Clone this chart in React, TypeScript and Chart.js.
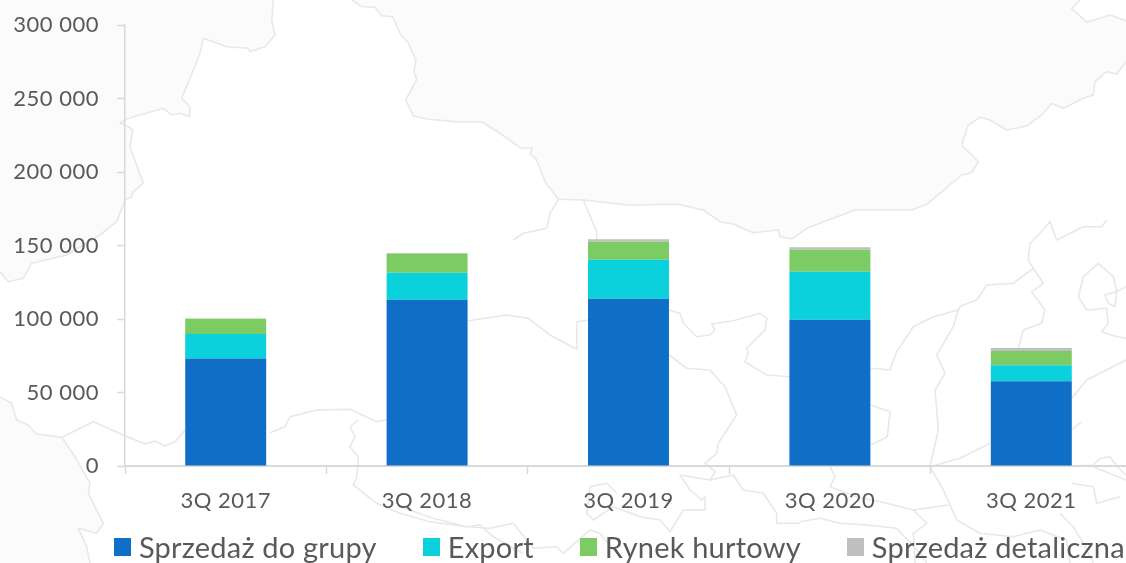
import React, { useEffect, useRef } from "react";
import { Chart, registerables } from "chart.js";

Chart.register(...registerables);

const categories = ["3Q 2017", "3Q 2018", "3Q 2019", "3Q 2020", "3Q 2021"];
const seriesNames = ["Sprzedaż do grupy", "Export", "Rynek hurtowy", "Sprzedaż detaliczna"];
const seriesColors = ["#0F6FC6", "#0BD1DC", "#7DCB63", "#BFBFBF"];
const sprzedazDoGrupy = [73100, 113100, 113800, 99500, 57600];
const exportSales = [16700, 18400, 26500, 32700, 10900];
const rynekHurtowy = [10400, 12900, 12300, 14900, 9700];
const sprzedazDetaliczna = [200, 500, 1600, 1700, 2100];
const seriesValues = [sprzedazDoGrupy, exportSales, rynekHurtowy, sprzedazDetaliczna];
const yTickStep = 50000;
const yMax = 300000;

const FONT = "Lato, Carlito, Calibri, sans-serif";
const TEXT = "#595959";
const AXIS = "#D9D9D9";

// Decorative background map, traced as [origin x, origin y, zoom coords...]
const z = (ox: number, oy: number, pts: number[][]) =>
  pts.map(([x, y]) => `${(ox + x / 3).toFixed(1)},${(oy + y / 3).toFixed(1)}`).join(" ");

const topBorder =
  z(300, 0, [[155,0],[185,20],[225,22],[245,47],[278,50],[300,100],[325,130],[348,180],[342,215],[350,238],[317,300],[340,347],[380,357],[470,365],[545,365],[600,400],[660,443],[698,445],[690,460],[710,480],[735,545],[775,598],[850,600],[990,616],[1130,612],[1210,630],[1260,665]]) +
  " " +
  z(720, 0, [[40,672],[100,698],[175,690],[180,710],[215,717],[260,685],[405,630],[575,630],[620,613],[725,525],[755,518],[775,485],[725,435],[745,375],[780,352],[810,360],[860,390],[920,378],[965,345],[995,310],[1030,325],[1090,295],[1120,285],[1125,245],[1160,215],[1190,222],[1218,185]]);
const topPocket = z(720, 0, [[1080,0],[1055,25],[1100,67],[1170,45],[1218,62]]);
const leftBorder =
  z(0, 0, [[820,0],[815,60],[825,105],[795,140],[750,155],[745,145],[680,140],[610,115],[600,160],[570,235],[545,295],[570,320],[568,350],[540,340],[515,345],[490,325],[385,355],[360,368],[385,380],[398,390],[390,440],[430,550],[400,575],[395,590],[375,600]]) +
  " " +
  z(0, 220, [[350,5],[300,45],[200,105],[95,130],[70,175],[25,185],[0,155]]);
const lowerLeft = z(0, 360, [[0,110],[35,130],[50,180],[85,195],[110,222],[185,232],[225,290],[270,370],[265,400],[310,490],[290,520],[235,505],[260,560],[270,609]]);

const mapLines: string[] = [
  topBorder, topPocket, leftBorder, lowerLeft,
  z(0, 360, [[185,232],[280,185],[370,225],[435,252],[465,243],[495,258],[525,245],[555,210]]),
  z(0, 360, [[810,218],[855,200],[870,170],[950,150],[1050,148],[1130,185],[1160,180]]),
  z(0, 220, [[1075,600],[1050,620],[1065,650],[1050,680],[1075,710],[1070,770],[1060,795],[1130,850],[1200,880],[1290,905],[1400,920],[1440,915],[1480,950],[1568,1000]]),
  z(300, 0, [[775,598],[750,640],[740,685],[670,700],[640,720]]),
  z(300, 0, [[850,600],[890,695],[890,720]]),
  z(400, 300, [[205,62],[320,45],[385,55],[450,105],[530,148],[530,65],[565,60]]),
  z(400, 300, [[807,30],[840,40],[850,70],[890,110],[930,105],[945,90],[935,72],[1000,62],[1080,40],[1100,55],[1095,90],[1040,145],[1045,160],[1035,185],[1100,225],[1170,230]]),
  z(400, 300, [[807,165],[860,205],[930,210],[975,260],[1010,345],[955,430],[950,460],[915,490],[945,515],[930,540],[840,525],[870,570],[905,600],[915,590],[915,630],[850,630],[810,695],[780,660],[720,650],[640,620],[580,660],[560,640],[570,560],[620,550],[650,580]]),
  z(400, 300, [[930,540],[1000,525],[1030,570],[1090,580],[1130,640],[1130,670],[1200,670]]),
  z(400, 300, [[0,620],[100,655],[200,680],[270,685],[340,670],[400,745],[470,740],[490,760],[570,690],[600,700],[640,750]]),
  z(800, 220, [[212,445],[270,450],[290,395],[340,320],[400,290],[475,270],[482,258],[530,240],[560,195],[640,190],[700,145],[685,120],[690,70],[720,40],[750,5],[770,60],[850,20],[905,20],[920,0]]),
  z(800, 220, [[700,145],[730,190],[695,215],[735,270],[725,310],[670,330],[655,385]]),
  z(800, 220, [[475,270],[460,320],[410,405],[435,460],[405,510],[415,630],[390,740],[430,810],[470,900],[540,940],[640,950],[720,930],[800,960],[810,1029]]),
  z(800, 220, [[212,555],[270,575],[262,650],[212,675]]),
  z(800, 220, [[390,740],[480,715],[570,670]]),
  z(800, 220, [[815,535],[860,480],[978,420]]),
  z(800, 220, [[815,630],[845,605]]),
  z(800, 220, [[835,230],[850,170],[895,130],[940,170],[950,215],[915,225],[925,250],[945,260],[950,215],[978,200]]),
  z(800, 220, [[835,230],[860,270],[920,265],[925,310],[905,335],[950,350],[978,355]]),
  z(800, 220, [[815,738],[880,735],[900,715],[930,710],[950,738],[978,765]]),
  z(800, 220, [[880,740],[978,780]]),
  z(800, 220, [[90,740],[105,770],[90,800],[170,830],[260,850],[340,870],[445,855]]),
  z(800, 220, [[340,870],[380,910],[340,940],[345,1029]]),
  z(800, 220, [[0,905],[60,895],[120,910],[200,915],[290,925],[360,1000],[380,1029]]),
  z(800, 220, [[780,880],[820,920],[850,970],[880,1029]]),
  z(800, 220, [[815,790],[880,800],[890,850],[960,830]]),
];

const fmt = (v: number) => String(v).replace(/\B(?=(\d{3})+$)/g, " ");

const spacingPlugin = {
  id: "tickLetterSpacing",
  beforeDraw(chart: any) {
    chart.ctx.letterSpacing = "0.5px";
  },
};

export default function App() {
  const ref = useRef<HTMLCanvasElement>(null);
  useEffect(() => {
    document.body.style.margin = "0";
    const chart = new Chart(ref.current!, {
      type: "bar",
      plugins: [spacingPlugin],
      data: {
        labels: categories,
        datasets: seriesNames.map((label, i) => ({
          label,
          data: seriesValues[i],
          backgroundColor: seriesColors[i],
          borderWidth: 0,
          barPercentage: 0.402,
          categoryPercentage: 1,
        })),
      },
      options: {
        animation: false,
        responsive: false,
        layout: { padding: { top: 25, left: 0, right: 0, bottom: 0 } },
        plugins: { legend: { display: false }, tooltip: { enabled: false }, title: { display: false } },
        scales: {
          x: {
            stacked: true,
            afterFit: (s: any) => { s.height = 97; s.paddingLeft = 0; s.paddingRight = 0; },
            grid: { drawOnChartArea: false, tickLength: 8, tickColor: AXIS, tickWidth: 1.5, offset: true },
            border: { color: AXIS, width: 2 },
            ticks: { color: TEXT, font: { family: FONT, size: 22 }, padding: 14, maxRotation: 0 },
          },
          y: {
            stacked: true,
            min: 0,
            max: yMax,
            afterFit: (s: any) => { s.width = 125; s.paddingTop = 0; s.paddingBottom = 0; },
            grid: { drawOnChartArea: false, tickLength: 8, tickColor: AXIS, tickWidth: 1.5 },
            border: { color: AXIS, width: 1.5 },
            ticks: { stepSize: yTickStep, color: TEXT, font: { family: FONT, size: 22 }, padding: 18, callback: (v: any) => fmt(Number(v)) },
          },
        },
      },
    } as any);
    return () => chart.destroy();
  }, []);

  return (
    <div style={{ position: "relative", width: 1126, height: 563, overflow: "hidden", background: "#fff" }}>
      <svg width={1126} height={563} style={{ position: "absolute", left: 0, top: 0 }}>
        <polygon points={`0,0 ${leftBorder}`} fill="#FBFBFB" />
        <polygon points={`${topBorder} 1126,21 1110,15 1087,22 1072,8 1080,0`} fill="#FBFBFB" />
        <polygon points={`${lowerLeft} 0,563`} fill="#FBFBFB" />
        {mapLines.map((p, i) => (
          <polyline key={i} points={p} fill="none" stroke="#E8E8E8" strokeWidth={1.6} strokeLinejoin="round" />
        ))}
      </svg>
      <canvas ref={ref} width={1132} height={563} style={{ position: "absolute", left: 0, top: 0, width: 1132, height: 563 }} />
      <div style={{ position: "absolute", left: 114, top: 526, display: "flex", gap: 46, whiteSpace: "nowrap", fontFamily: FONT, fontSize: 29, letterSpacing: 0.2, lineHeight: "42px", color: TEXT }}>
        {seriesNames.map((name, i) => (
          <div key={name} style={{ display: "flex", alignItems: "center", gap: 8 }}>
            <span style={{ width: 17, height: 18, background: seriesColors[i], display: "inline-block" }} />
            <span>{name}</span>
          </div>
        ))}
      </div>
    </div>
  );
}
